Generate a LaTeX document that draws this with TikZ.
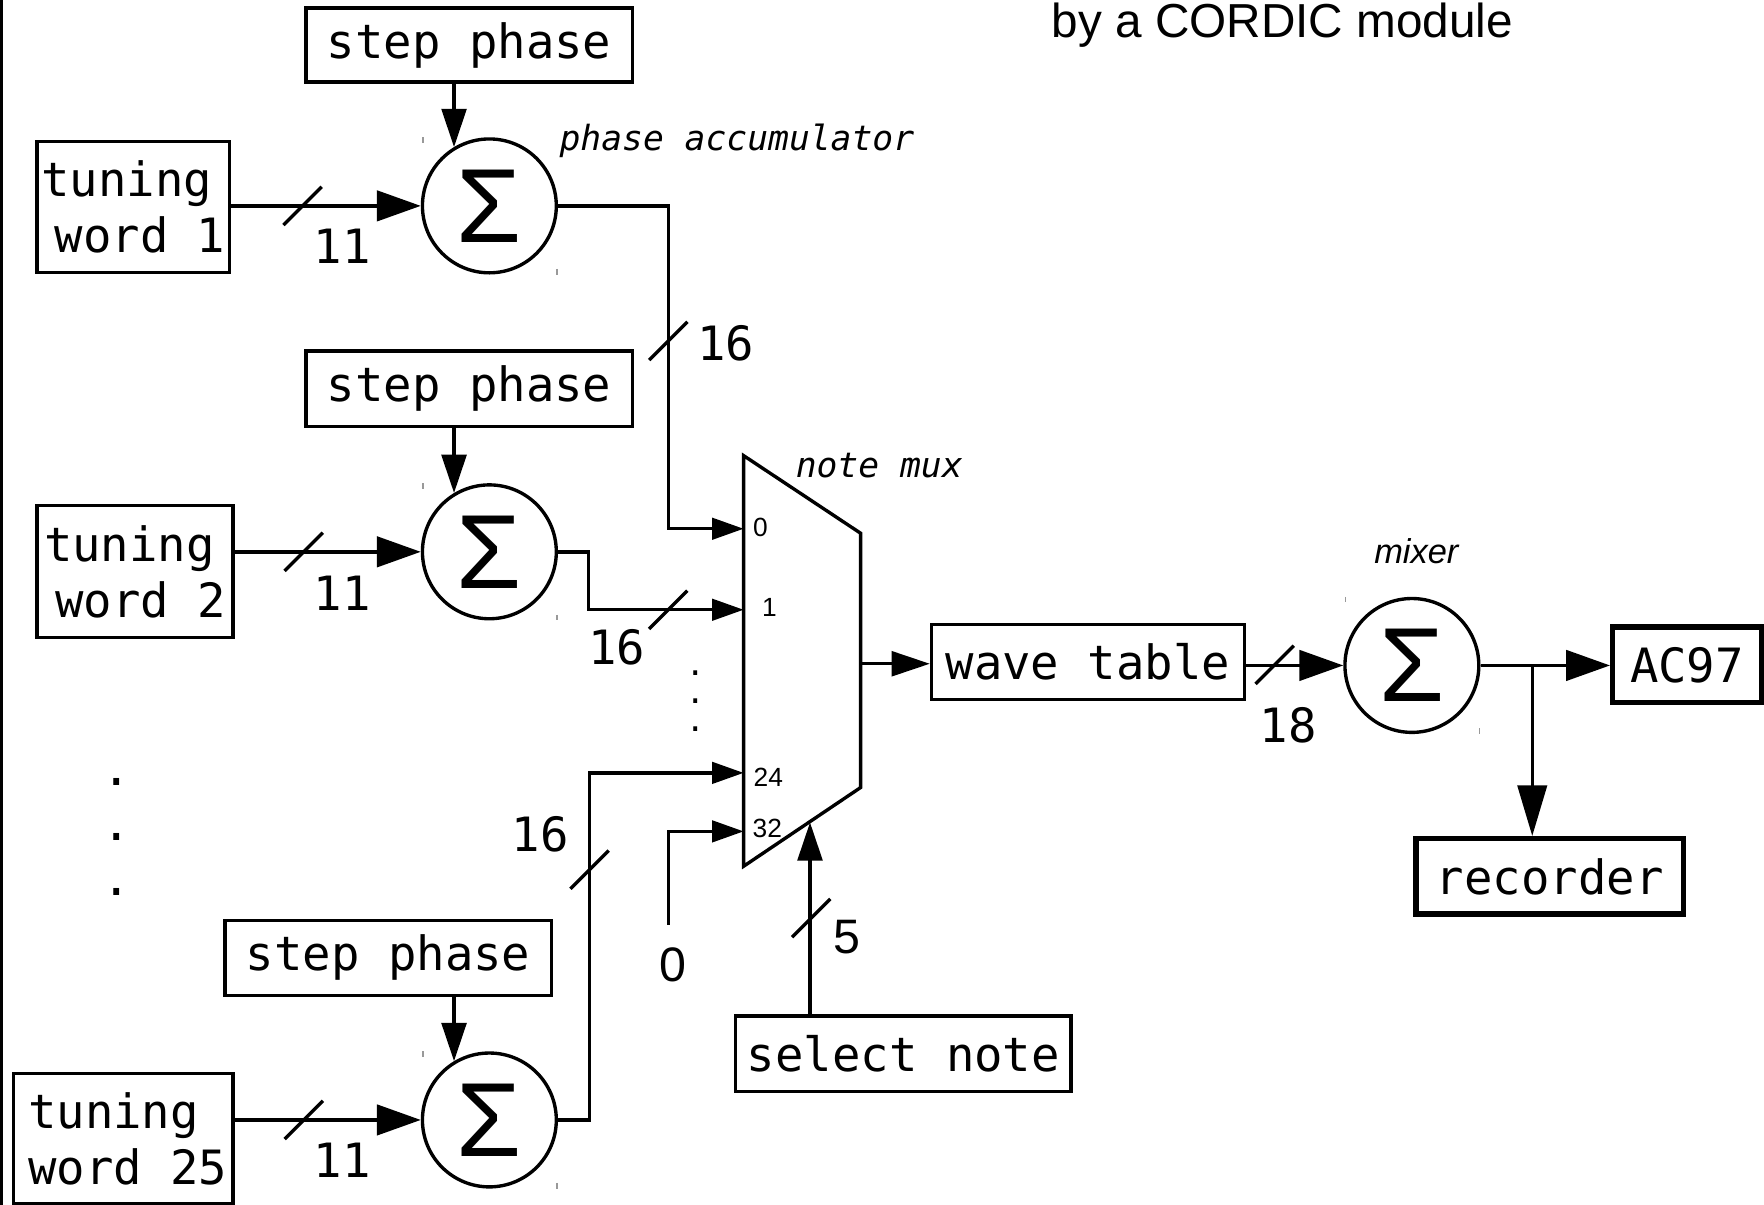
\documentclass[tikz,border=0pt]{standalone}
\usepackage{fontspec}
\newfontfamily\mono{DejaVu Sans Mono}
\newfontfamily\arial{Liberation Sans}
\usetikzlibrary{arrows.meta}
\tikzset{
  slash/.pic={\draw[line width=1.5pt] (-17,17) -- (17,-17);}
}
\begin{document}
\begin{tikzpicture}[x=0.5pt,y=-0.5pt,line width=1.5pt,line join=miter,
  txt/.style={font=\mono\fontsize{21pt}{25pt}\selectfont},
  box/.style={draw,txt,inner sep=0pt,line width=1.5pt},
  thickbox/.style={box,line width=2.4pt},
  sum/.style={draw,circle,inner sep=0pt,minimum size=59.5pt,line width=1.5pt,
    font=\arial\fontsize{46.8pt}{50pt}\selectfont},
  lab/.style={font=\mono\fontsize{21pt}{25pt}\selectfont,inner sep=0pt},
  slab/.style={font=\arial\fontsize{21.5pt}{25pt}\selectfont,inner sep=0pt},
  mlab/.style={font=\arial\fontsize{11.7pt}{14pt}\selectfont,inner sep=0pt},
  ital/.style={font=\mono\itshape\fontsize{15.4pt}{18pt}\selectfont,inner sep=0pt},
  dotm/.style={font=\mono\fontsize{14pt}{14pt}\selectfont,inner sep=0pt,anchor=base},
  bigarr/.style={-{Triangle[length=19.5pt,width=13.5pt]}},
  medarr/.style={-{Triangle[length=17pt,width=11pt]}},
  smallarr/.style={-{Triangle[length=14pt,width=9.5pt]}},
  recarr/.style={-{Triangle[length=22.5pt,width=13pt]}},
  tick/.style={line width=0.6pt,black!40}
]
\useasboundingbox (0,0) rectangle (1568,1071);

% left border line
\coordinate (bt) at (1,0);
\coordinate (bb) at (1,1071);
\draw (bt) -- (bb);

% title fragment
\node[font=\arial\fontsize{21.2pt}{25pt}\selectfont,anchor=base,inner sep=0pt] (title) at (1140,33) {by a CORDIC module};

% step phase boxes
\node[box,minimum width=145pt,minimum height=33pt] (sp1) at (417,40) {step phase};
\node[box,minimum width=145pt,minimum height=33.5pt] (sp2) at (417,345.5) {step phase};
\node[box,minimum width=145pt,minimum height=33.5pt] (sp3) at (345,851.5) {step phase};

% tuning word boxes
\node[box,align=left,minimum width=85.5pt,minimum height=58pt] (tw1) at (118.5,184) {tuning\\\hspace*{6pt}word 1};
\node[box,align=left,minimum width=87pt,minimum height=58.5pt] (tw2) at (120,508) {tuning\\\hspace*{5pt}word 2};
\node[box,align=left,minimum width=97.5pt,minimum height=58pt] (tw3) at (109.5,1012) {\hspace*{4pt}tuning\\\hspace*{4pt}word 25};

% adders
\node[sum] (s1) at (435,183) {Σ};
\node[sum] (s2) at (435,490.5) {Σ};
\node[sum] (s3) at (435,995.5) {Σ};
\node[sum] (mix) at (1255,591.5) {Σ};

% bounding-box tick artefacts
\foreach \c in {s1,s2,s3,mix}{
  \draw[tick] ([shift={(-59,-61)}]\c.center) -- ++(0,5);
  \draw[tick] ([shift={(60,56)}]\c.center) -- ++(0,5);
}

% other boxes
\node[box,minimum width=149pt,minimum height=33.5pt] (sel) at (803,936.5) {select note};
\node[box,minimum width=139pt,minimum height=33.5pt] (wave) at (967,588.5) {wave table};
\node[thickbox,minimum width=66pt,minimum height=33.5pt] (ac) at (1499.5,591) {AC97};
\node[thickbox,minimum width=119pt,minimum height=33.5pt] (rec) at (1377.5,779) {recorder};

% multiplexer
\coordinate (mtl) at (661,405);
\coordinate (mtr) at (765,474);
\coordinate (mbr) at (765,700);
\coordinate (mbl) at (661,770);
\draw (mtl) -- (mtr) -- (mbr) -- (mbl) -- cycle;
\coordinate (in0) at (661,470);
\coordinate (in1) at (661,542);
\coordinate (in24) at (661,687);
\coordinate (in32) at (661,739);
\coordinate (mout) at (765,590);
\coordinate (msel) at (720,731);

\node[mlab] (l0) at (676,469) {0};
\node[mlab] (l1) at (684,540) {1};
\node[mlab] (l24) at (683,691) {24};
\node[mlab] (l32) at (682,736) {32};

% italic labels
\node[ital,anchor=base] (pa) at (655,134) {phase accumulator};
\node[ital,anchor=base] (nm) at (781.5,424) {note mux};
\node[font=\arial\itshape\fontsize{15.3pt}{18pt}\selectfont,anchor=base,inner sep=0pt] (mxl) at (1259,501) {mixer};

% ellipsis dots
\node[lab,anchor=base] (d1) at (104,698) {.};
\node[lab,anchor=base] (d2) at (104,747) {.};
\node[lab,anchor=base] (d3) at (104,796) {.};
\node[dotm] (d4) at (618,600) {.};
\node[dotm] (d5) at (618,625) {.};
\node[dotm] (d6) at (618,650) {.};

% step phase -> adders
\draw[medarr] (s1.121 |- sp1.south) -- (s1.121);
\draw[medarr] (s2.121 |- sp2.south) -- (s2.121);
\draw[medarr] (s3.121 |- sp3.south) -- (s3.121);

% tuning words -> adders
\draw[bigarr] (tw1.east |- s1.west) -- (s1.west);
\draw[bigarr] (tw2.east |- s2.west) -- (s2.west);
\draw[bigarr] (tw3.east |- s3.west) -- (s3.west);
\pic at (269,183) {slash};
\pic at (270,490.5) {slash};
\pic at (270,995.5) {slash};
\node[lab] (w11a) at (304,219) {11};
\node[lab] (w11b) at (304,527) {11};
\node[lab] (w11c) at (304,1031) {11};

% adders -> mux
\coordinate (j1) at (594,470);
\coordinate (j2) at (523,542);
\coordinate (j3) at (524,687);
\draw[smallarr] (s1.east) -| (j1) -- (in0);
\draw[smallarr] (s2.east) -| (j2) -- (in1);
\draw[smallarr] (s3.east) -| (j3) -- (in24);
\pic at (594,303) {slash};
\pic at (594,542) {slash};
\pic at (524,773) {slash};
\node[lab] (w16a) at (645,305) {16};
\node[lab] (w16b) at (548,575) {16};
\node[lab] (w16c) at (480,742) {16};

% constant 0 input
\node[slab] (zero) at (598,858) {0};
\coordinate (z0) at (594,822);
\draw[smallarr] (z0) |- (in32);

% select note
\draw[medarr] (sel.north -| msel) -- (msel);
\pic at (721,816) {slash};
\node[slab] (w5) at (753,833) {5};

% mux -> wave table -> mixer
\draw[medarr] (mout) -- (wave.west |- mout);
\draw[bigarr] (wave.east |- mix.west) -- (mix.west);
\pic at (1133,591) {slash};
\node[lab] (w18) at (1145,645) {18};

% mixer -> outputs
\coordinate (br) at (1362,591.5);
\draw[bigarr] (mix.east) -- (ac.west |- mix.east);
\draw[recarr] (br) -- (rec.north -| br);
\end{tikzpicture}
\end{document}
